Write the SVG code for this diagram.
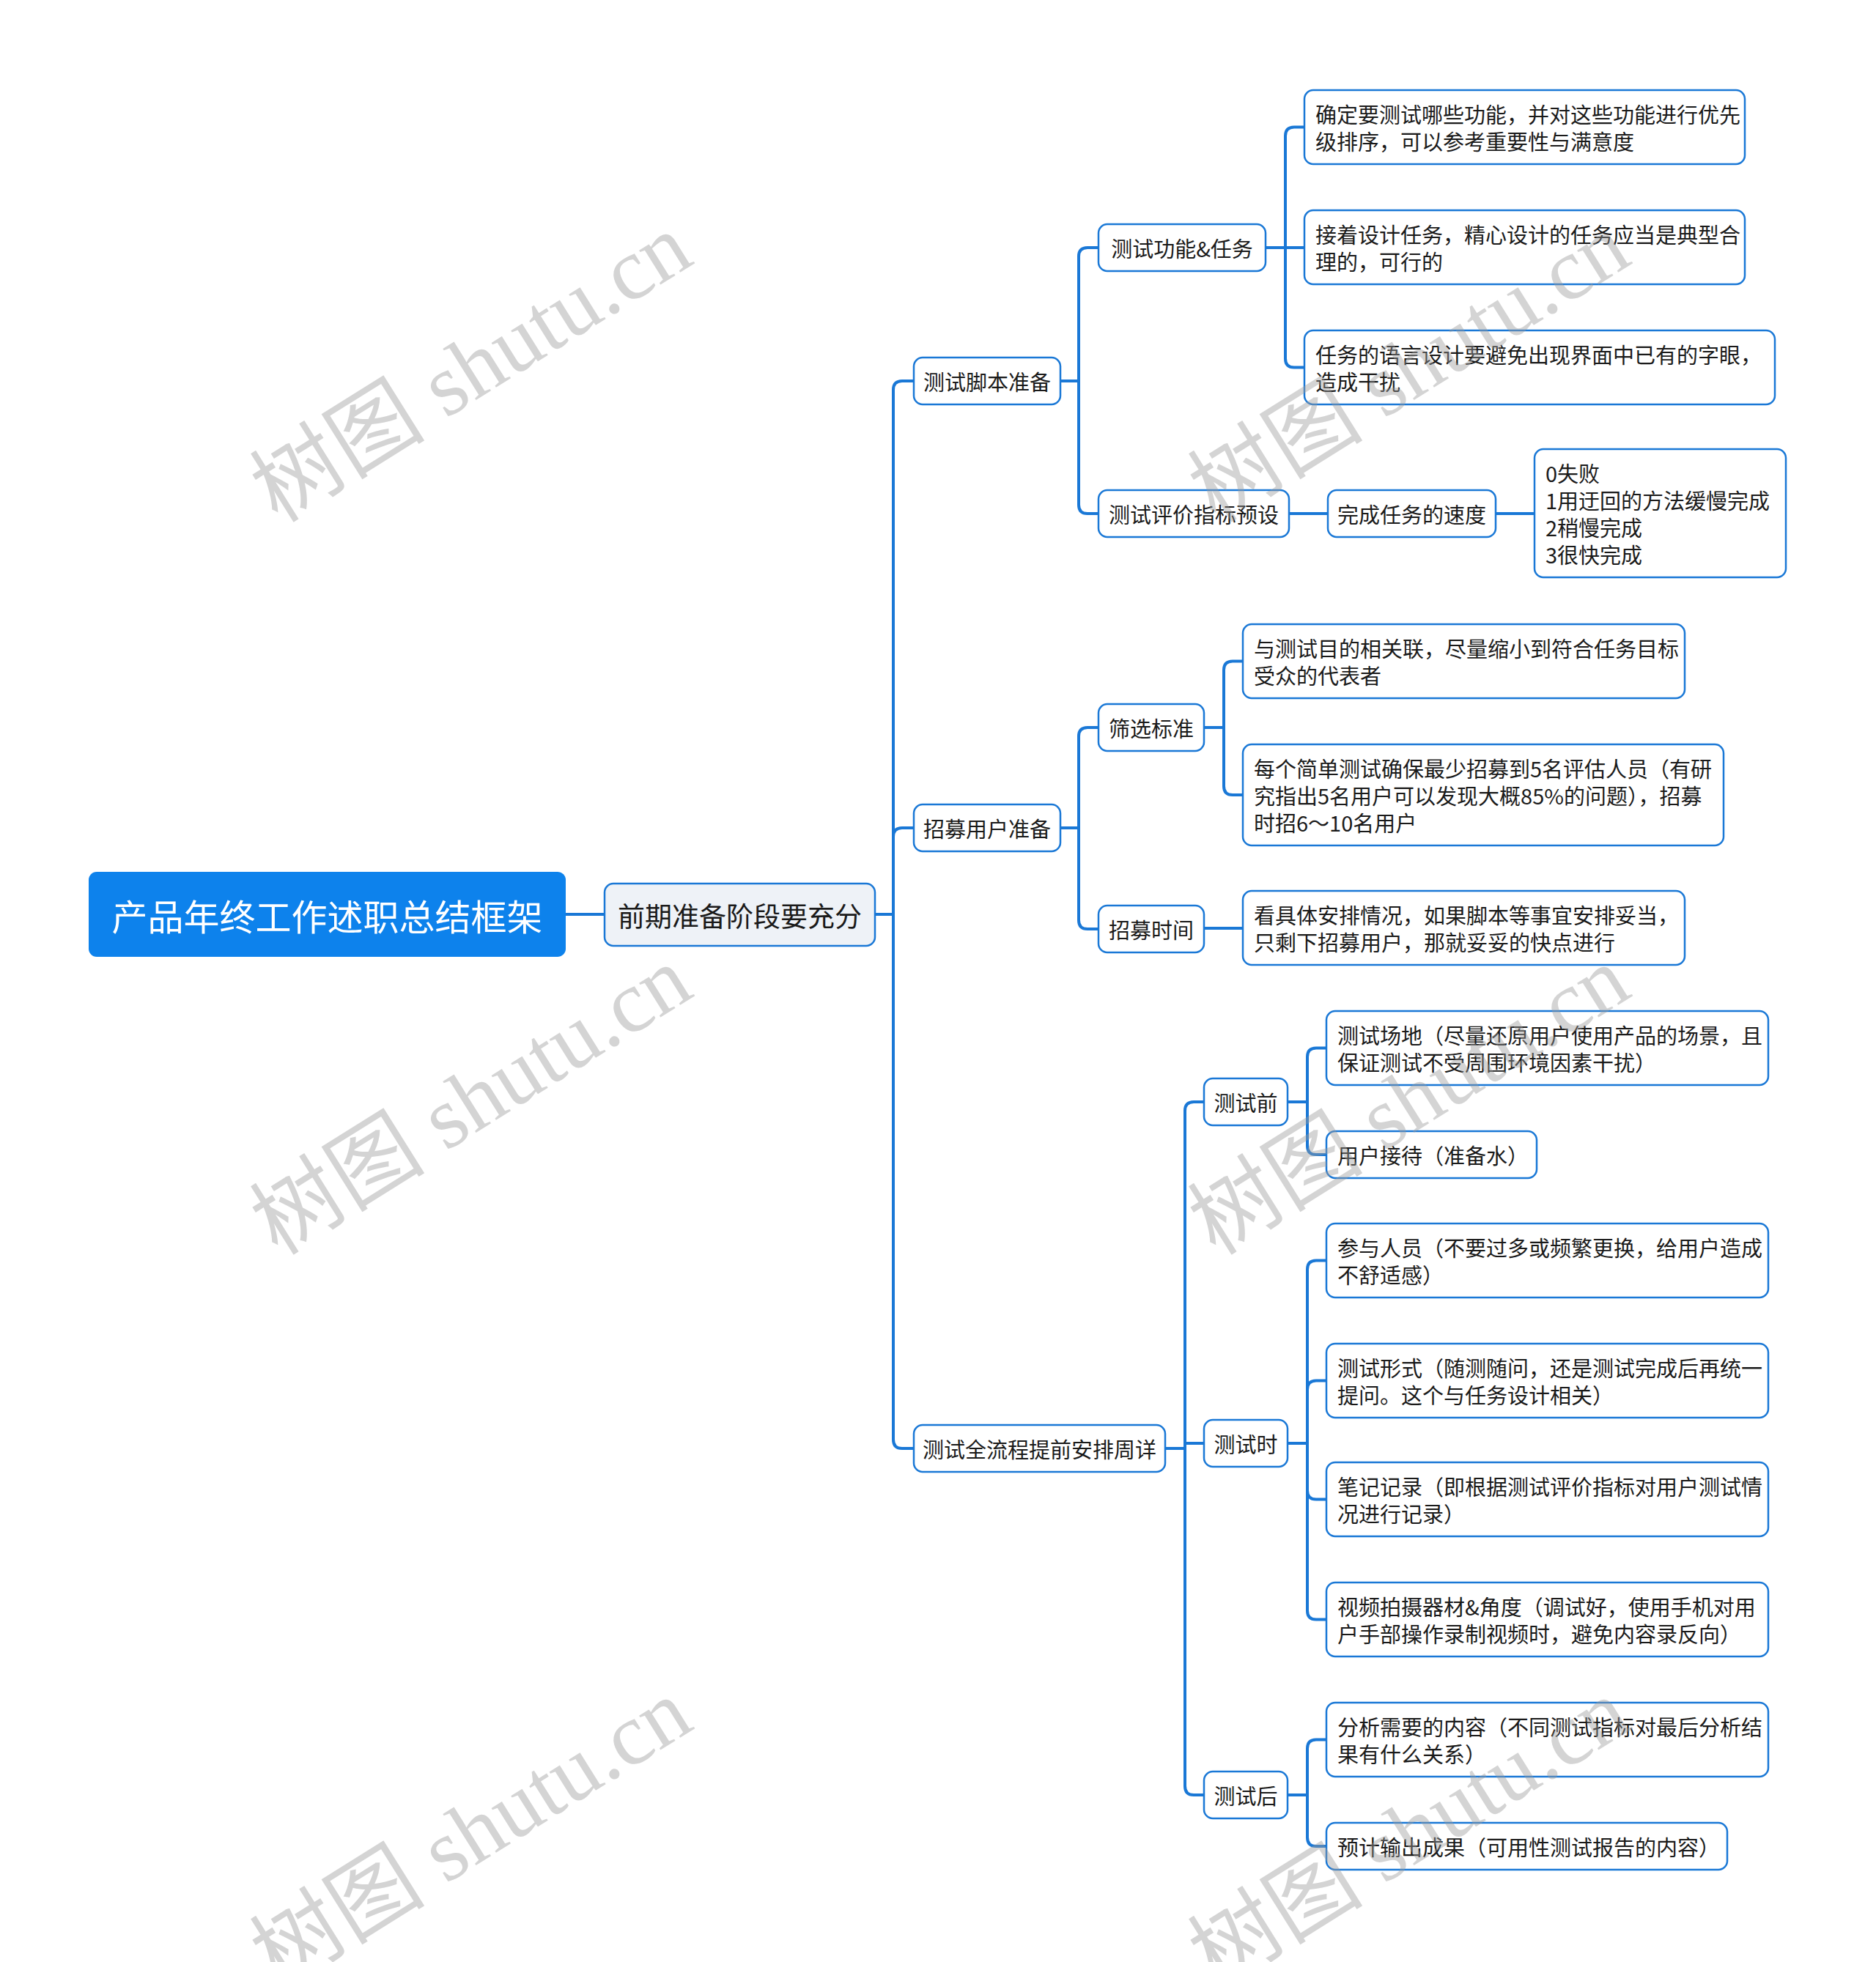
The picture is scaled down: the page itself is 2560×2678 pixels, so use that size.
<svg xmlns="http://www.w3.org/2000/svg" width="2560" height="2678" viewBox="0 0 2560 2678">
<style>
.bg{fill:#ffffff}
.box{fill:#ffffff;stroke:#1a78d6;stroke-width:2.5}
.l1{fill:#eef2f7;stroke:#1a78d6;stroke-width:2.5}
.root{fill:#0d82ec}
.t{font-family:"Noto Sans CJK SC","Noto Sans",sans-serif;font-size:29px;fill:#1a1a1a;dominant-baseline:central}
.c{text-anchor:middle}
.rt{font-family:"Noto Sans CJK SC","Noto Sans",sans-serif;font-size:49px;fill:#ffffff;dominant-baseline:central;text-anchor:middle}
.l1t{font-family:"Noto Sans CJK SC","Noto Sans",sans-serif;font-size:37px;fill:#1a1a1a;dominant-baseline:central;text-anchor:middle}
.ln{fill:none;stroke:#1a78d6;stroke-width:4;stroke-linejoin:round}
.wm{font-family:"Liberation Serif","Noto Sans CJK SC",serif;font-size:120px;fill:#9a9a9a;opacity:0.42}
</style>
<rect class="bg" x="0" y="0" width="2560" height="2678"/>
<g id="connectors">
<path class="ln" d="M772 1248 H825"/>
<path class="ln" d="M1194 1248 H1219 V532 Q1219 520 1231 520 H1247"/>
<path class="ln" d="M1194 1248 H1219 V1142 Q1219 1130 1231 1130 H1247"/>
<path class="ln" d="M1194 1248 H1219 V1965 Q1219 1977 1231 1977 H1247"/>
<path class="ln" d="M1447 520 H1472 V350 Q1472 338 1484 338 H1499"/>
<path class="ln" d="M1447 520 H1472 V689 Q1472 701 1484 701 H1499"/>
<path class="ln" d="M1727 338 H1754 V185.5 Q1754 173.5 1766 173.5 H1780"/>
<path class="ln" d="M1727 338 H1780"/>
<path class="ln" d="M1727 338 H1754 V489.5 Q1754 501.5 1766 501.5 H1780"/>
<path class="ln" d="M1759 701 H1812"/>
<path class="ln" d="M2041 701 H2094"/>
<path class="ln" d="M1447 1130 H1472 V1005 Q1472 993 1484 993 H1499"/>
<path class="ln" d="M1447 1130 H1472 V1256 Q1472 1268 1484 1268 H1499"/>
<path class="ln" d="M1643 993 H1670 V914.5 Q1670 902.5 1682 902.5 H1696"/>
<path class="ln" d="M1643 993 H1670 V1073 Q1670 1085 1682 1085 H1696"/>
<path class="ln" d="M1643 1267 H1696"/>
<path class="ln" d="M1590 1977 H1617 V1516 Q1617 1504 1629 1504 H1643"/>
<path class="ln" d="M1590 1977 H1617 V1970 H1643"/>
<path class="ln" d="M1590 1977 H1617 V2438 Q1617 2450 1629 2450 H1643"/>
<path class="ln" d="M1757 1504 H1784 V1442.5 Q1784 1430.5 1796 1430.5 H1810"/>
<path class="ln" d="M1757 1504 H1784 V1564 Q1784 1576 1796 1576 H1810"/>
<path class="ln" d="M1757 1970 H1784 V1732.5 Q1784 1720.5 1796 1720.5 H1810"/>
<path class="ln" d="M1757 1970 H1784 V1896.5 Q1784 1884.5 1796 1884.5 H1810"/>
<path class="ln" d="M1757 1970 H1784 V2034.5 Q1784 2046.5 1796 2046.5 H1810"/>
<path class="ln" d="M1757 1970 H1784 V2198.5 Q1784 2210.5 1796 2210.5 H1810"/>
<path class="ln" d="M1757 2450 H1784 V2386.5 Q1784 2374.5 1796 2374.5 H1810"/>
<path class="ln" d="M1757 2450 H1784 V2508 Q1784 2520 1796 2520 H1810"/>
</g>
<g id="root"><rect class="root" x="121" y="1190" width="651" height="116" rx="11"/><text class="rt" x="446.5" y="1248">产品年终工作述职总结框架</text></g>
<g id="n-prep"><rect class="l1" x="825" y="1206" width="369" height="85" rx="12"/><text class="l1t" x="1009.5" y="1248.5">前期准备阶段要充分</text></g>
<g id="n-script"><rect class="box" x="1247" y="488" width="200" height="64" rx="12"/><text class="t c" x="1347" y="520">测试脚本准备</text></g>
<g id="n-recruit"><rect class="box" x="1247" y="1098" width="200" height="64" rx="12"/><text class="t c" x="1347" y="1130">招募用户准备</text></g>
<g id="n-flow"><rect class="box" x="1247" y="1945" width="343" height="64" rx="12"/><text class="t c" x="1418.5" y="1977">测试全流程提前安排周详</text></g>
<g id="n-func"><rect class="box" x="1499" y="306" width="228" height="64" rx="12"/><text class="t c" x="1613" y="338">测试功能&amp;任务</text></g>
<g id="n-eval"><rect class="box" x="1499" y="669" width="260" height="64" rx="12"/><text class="t c" x="1629" y="701">测试评价指标预设</text></g>
<g id="n-speed"><rect class="box" x="1812" y="669" width="229" height="64" rx="12"/><text class="t c" x="1926.5" y="701">完成任务的速度</text></g>
<g id="n-filter"><rect class="box" x="1499" y="961" width="144" height="64" rx="12"/><text class="t c" x="1571" y="993">筛选标准</text></g>
<g id="n-rtime"><rect class="box" x="1499" y="1236" width="144" height="64" rx="12"/><text class="t c" x="1571" y="1268">招募时间</text></g>
<g id="n-before"><rect class="box" x="1643" y="1472" width="114" height="64" rx="12"/><text class="t c" x="1700" y="1504">测试前</text></g>
<g id="n-during"><rect class="box" x="1643" y="1938" width="114" height="64" rx="12"/><text class="t c" x="1700" y="1970">测试时</text></g>
<g id="n-after"><rect class="box" x="1643" y="2418" width="114" height="64" rx="12"/><text class="t c" x="1700" y="2450">测试后</text></g>
<g id="leaf-a1"><rect class="box" x="1780" y="123" width="601" height="101" rx="12"/><text class="t" x="1795" y="155">确定要测试哪些功能，并对这些功能进行优先</text><text class="t" x="1795" y="192">级排序，可以参考重要性与满意度</text></g>
<g id="leaf-a2"><rect class="box" x="1780" y="287" width="601" height="101" rx="12"/><text class="t" x="1795" y="319">接着设计任务，精心设计的任务应当是典型合</text><text class="t" x="1795" y="356">理的，可行的</text></g>
<g id="leaf-a3"><rect class="box" x="1780" y="451" width="642" height="101" rx="12"/><text class="t" x="1795" y="483">任务的语言设计要避免出现界面中已有的字眼，</text><text class="t" x="1795" y="520">造成干扰</text></g>
<g id="leaf-b"><rect class="box" x="2094" y="613" width="343" height="175" rx="12"/><text class="t" x="2109" y="645">0失败</text><text class="t" x="2109" y="682">1用迂回的方法缓慢完成</text><text class="t" x="2109" y="719">2稍慢完成</text><text class="t" x="2109" y="756">3很快完成</text></g>
<g id="leaf-c1"><rect class="box" x="1696" y="852" width="603" height="101" rx="12"/><text class="t" x="1711" y="884">与测试目的相关联，尽量缩小到符合任务目标</text><text class="t" x="1711" y="921">受众的代表者</text></g>
<g id="leaf-c2"><rect class="box" x="1696" y="1016" width="656" height="138" rx="12"/><text class="t" x="1711" y="1048">每个简单测试确保最少招募到5名评估人员（有研</text><text class="t" x="1711" y="1085">究指出5名用户可以发现大概85%的问题），招募</text><text class="t" x="1711" y="1122">时招6～10名用户</text></g>
<g id="leaf-d"><rect class="box" x="1696" y="1216" width="603" height="101" rx="12"/><text class="t" x="1711" y="1248">看具体安排情况，如果脚本等事宜安排妥当，</text><text class="t" x="1711" y="1285">只剩下招募用户，那就妥妥的快点进行</text></g>
<g id="leaf-e1"><rect class="box" x="1810" y="1380" width="603" height="101" rx="12"/><text class="t" x="1825" y="1412">测试场地（尽量还原用户使用产品的场景，且</text><text class="t" x="1825" y="1449">保证测试不受周围环境因素干扰）</text></g>
<g id="leaf-e2"><rect class="box" x="1810" y="1544" width="287" height="64" rx="12"/><text class="t" x="1825" y="1576">用户接待（准备水）</text></g>
<g id="leaf-f1"><rect class="box" x="1810" y="1670" width="603" height="101" rx="12"/><text class="t" x="1825" y="1702">参与人员（不要过多或频繁更换，给用户造成</text><text class="t" x="1825" y="1739">不舒适感）</text></g>
<g id="leaf-f2"><rect class="box" x="1810" y="1834" width="603" height="101" rx="12"/><text class="t" x="1825" y="1866">测试形式（随测随问，还是测试完成后再统一</text><text class="t" x="1825" y="1903">提问。这个与任务设计相关）</text></g>
<g id="leaf-f3"><rect class="box" x="1810" y="1996" width="603" height="101" rx="12"/><text class="t" x="1825" y="2028">笔记记录（即根据测试评价指标对用户测试情</text><text class="t" x="1825" y="2065">况进行记录）</text></g>
<g id="leaf-f4"><rect class="box" x="1810" y="2160" width="603" height="101" rx="12"/><text class="t" x="1825" y="2192">视频拍摄器材&amp;角度（调试好，使用手机对用</text><text class="t" x="1825" y="2229">户手部操作录制视频时，避免内容录反向）</text></g>
<g id="leaf-g1"><rect class="box" x="1810" y="2324" width="603" height="101" rx="12"/><text class="t" x="1825" y="2356">分析需要的内容（不同测试指标对最后分析结</text><text class="t" x="1825" y="2393">果有什么关系）</text></g>
<g id="leaf-g2"><rect class="box" x="1810" y="2488" width="547" height="64" rx="12"/><text class="t" x="1825" y="2520">预计输出成果（可用性测试报告的内容）</text></g>
<g id="watermarks">
<text class="wm" x="379" y="715" transform="rotate(-32 379 715)">树图 shutu.cn</text>
<text class="wm" x="1659" y="715" transform="rotate(-32 1659 715)">树图 shutu.cn</text>
<text class="wm" x="379" y="1715" transform="rotate(-32 379 1715)">树图 shutu.cn</text>
<text class="wm" x="1659" y="1715" transform="rotate(-32 1659 1715)">树图 shutu.cn</text>
<text class="wm" x="379" y="2715" transform="rotate(-32 379 2715)">树图 shutu.cn</text>
<text class="wm" x="1659" y="2715" transform="rotate(-32 1659 2715)">树图 shutu.cn</text>
</g>
</svg>
